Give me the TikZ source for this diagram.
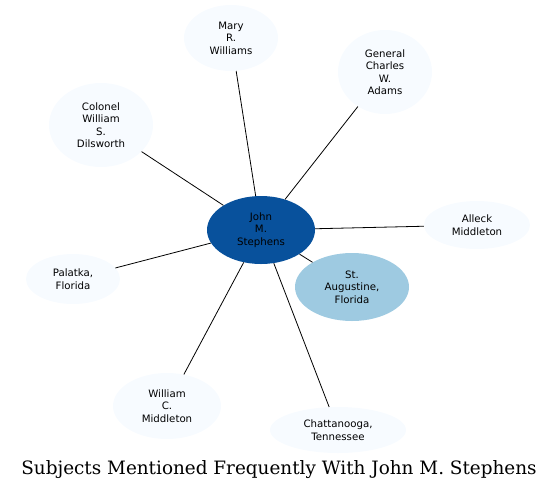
\documentclass[tikz,border=0pt]{standalone}
\usepackage{fontspec}
\newfontfamily\nodefont{DejaVu Sans}
\newfontfamily\titlefont{DejaVu Serif}
\usetikzlibrary{shapes.geometric}
\definecolor{hubblue}{HTML}{08519C}
\definecolor{midblue}{HTML}{9ECAE1}
\definecolor{paleblue}{HTML}{F7FBFF}
\tikzset{
    subj/.style={ellipse, fill=paleblue, inner sep=0pt, align=center,
        font=\nodefont\fontsize{10.2}{12.5}\selectfont},
    link/.style={black, line width=0.8pt}
}
\begin{document}
\begin{tikzpicture}[x=1pt, y=-1pt]
    \useasboundingbox (0,0) rectangle (559,491);
    % hub
    \node[subj, fill=hubblue, minimum width=108, minimum height=68] (john) at (261,230) {John\\M.\\Stephens};
    % subjects round it
    \node[subj, minimum width=94, minimum height=66] (mary) at (231,38) {Mary\\R.\\Williams};
    \node[subj, minimum width=94, minimum height=84] (adams) at (385,72) {General\\Charles\\W.\\Adams};
    \node[subj, minimum width=104, minimum height=84] (dilsworth) at (101,125) {Colonel\\William\\S.\\Dilsworth};
    \node[subj, minimum width=106, minimum height=48] (alleck) at (477,225) {Alleck\\Middleton};
    \node[subj, fill=midblue, minimum width=114, minimum height=68] (augustine) at (352,287) {St.\\Augustine,\\Florida};
    \node[subj, minimum width=94, minimum height=50] (palatka) at (73,279) {Palatka,\\Florida};
    \node[subj, minimum width=108, minimum height=66] (william) at (167,406) {William\\C.\\Middleton};
    \node[subj, minimum width=136, minimum height=46] (chatt) at (338,430) {Chattanooga,\\Tennessee};
    % links
    \foreach \nm in {mary, adams, dilsworth, alleck, augustine, palatka, william, chatt}
        \draw[link] (john) -- (\nm);
    \node[font=\titlefont\fontsize{18.4}{22}\selectfont, inner sep=0pt, anchor=base] (title) at (279,474) {Subjects Mentioned Frequently With John M. Stephens};
\end{tikzpicture}
\end{document}
